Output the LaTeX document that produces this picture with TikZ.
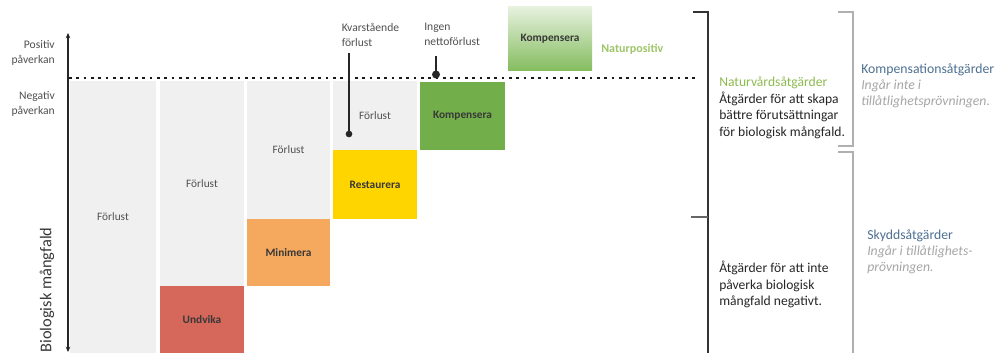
\documentclass[tikz,border=0pt]{standalone}
\usepackage{fontspec}
\setmainfont{Carlito}
\usetikzlibrary{arrows.meta}
\definecolor{boxgray}{HTML}{F0F0F0}
\definecolor{redbox}{HTML}{D5685A}
\definecolor{orangebox}{HTML}{F5A95E}
\definecolor{yellowbox}{HTML}{FFD500}
\definecolor{greenbox}{HTML}{72AE4A}
\definecolor{greentop}{HTML}{E6F1DE}
\definecolor{greenbot}{HTML}{84BC5E}
\definecolor{txtgray}{HTML}{505050}
\definecolor{dark}{HTML}{383838}
\definecolor{natgreen}{HTML}{8DBA4F}
\definecolor{bluegray}{HTML}{4D6F91}
\definecolor{itgray}{HTML}{A6A6A6}
\definecolor{brgray}{HTML}{B0B0B0}
\begin{document}
\begin{tikzpicture}[x=0.75pt,y=-0.75pt,
  gbox/.style={inner sep=0pt, draw=none, fill=boxgray, text=txtgray, font=\fontsize{8.5}{10}\selectfont},
  cbox/.style={inner sep=0pt, draw=none, text=dark, font=\fontsize{8.5}{10}\selectfont\bfseries},
  small/.style={inner sep=0pt, text=txtgray, font=\fontsize{8.7}{11.2}\selectfont},
  rtext/.style={inner sep=0pt, anchor=west, align=left, text=black!85, font=\fontsize{10.2}{12.5}\selectfont},
  ktext/.style={inner sep=0pt, anchor=west, align=left, font=\fontsize{10.3}{12}\selectfont},
  axisline/.style={line width=1.5pt, draw=black!85},
  marker/.style={line width=0.9pt, draw=black!85},
  mdot/.style={circle, fill=black!85, inner sep=0pt, minimum size=5pt},
  blackbr/.style={line width=1.2pt, draw=black!80},
  graybr/.style={line width=0.9pt, draw=brgray}
]
\useasboundingbox (0,0) rectangle (1000,353);

% columns
\node[gbox, minimum width=64.5pt, minimum height=204pt] (c1) at (113,217) {Förlust};
\node[gbox, minimum width=63pt, minimum height=153.75pt] (c2) at (202,183.5) {Förlust};
\node[cbox, fill=redbox, minimum width=63pt, minimum height=50.25pt] (undv) at (202,319.5) {Undvika};
\node[gbox, minimum width=62.25pt, minimum height=103.5pt] (c3) at (288.5,150) {Förlust};
\node[cbox, fill=orangebox, minimum width=62.25pt, minimum height=50.25pt] (mini) at (288.5,252.5) {Minimera};
\node[gbox, minimum width=63pt, minimum height=51.75pt] (c4) at (375,115.5) {Förlust};
\node[cbox, fill=yellowbox, minimum width=63pt, minimum height=51.75pt] (rest) at (375,184.5) {Restaurera};
\node[cbox, fill=greenbox, minimum width=63.75pt, minimum height=51pt] (komp1) at (462.5,116) {Kompensera};
\node[cbox, top color=greentop, bottom color=greenbot, minimum width=63pt, minimum height=48pt] (komp2) at (550,39) {Kompensera};
\node[inner sep=0pt, anchor=west, text=natgreen!85, font=\fontsize{9}{11}\selectfont\bfseries] (natpos) at (601,49) {Naturpositiv};

% axis
\coordinate (axtop) at (68,33);
\coordinate (axbot) at (68,352);
\draw[axisline, {Stealth[length=4pt,width=3.5pt]}-{Stealth[length=4pt,width=3.5pt]}] (axbot) -- (axtop);

% dotted line
\coordinate (dl) at (69,78);
\coordinate (dr) at (698,78);
\draw[line width=2.1pt, draw=black!90, dash pattern=on 2.1pt off 3.4pt] (dl) -- (dr);

% left labels
\node[small, anchor=east, align=right] (pos) at (55,52.5) {Positiv\\påverkan};
\node[small, anchor=east, align=right] (neg) at (55,104) {Negativ\\påverkan};
\node[inner sep=0pt, rotate=90, text=dark, font=\fontsize{12.3}{14}\selectfont] (bio) at (47,290) {Biologisk mångfald};

% markers
\node[small, anchor=west, align=left] (kvar) at (341.5,34.5) {Kvarstående\\förlust};
\coordinate (kvtop) at (349,53);
\node[mdot] (kvdot) at (349,134) {};
\draw[marker] (kvtop) -- (kvdot.center);
\node[small, anchor=west, align=left] (ingen) at (424,34.5) {Ingen\\nettoförlust};
\coordinate (ingtop) at (436,56);
\node[mdot, minimum size=6pt] (ingdot) at (436,74.5) {};
\draw[marker, line width=1.3pt] (ingtop) -- (ingdot.center);

% black bracket
\coordinate (b1a) at (693,12);
\coordinate (b1b) at (708,12);
\coordinate (b1c) at (708,353);
\coordinate (b1m) at (708,217);
\coordinate (b1n) at (691,217);
\draw[blackbr] (b1a) -- (b1b) -- (b1c);
\draw[line width=1.8pt, draw=black!60] (b1n) -- (b1m);

% gray brackets
\coordinate (g1a) at (838,12);
\coordinate (g1b) at (853,12);
\coordinate (g1c) at (853,146);
\coordinate (g1d) at (838,146);
\draw[graybr] (g1a) -- (g1b) -- (g1c) -- (g1d);
\coordinate (g2a) at (838,152);
\coordinate (g2b) at (853,152);
\coordinate (g2c) at (853,353);
\draw[graybr] (g2a) -- (g2b) -- (g2c);

% right texts
\node[rtext] (natv) at (719,108) {\textcolor{natgreen}{Naturvårdsåtgärder}\\Åtgärder för att skapa\\bättre förutsättningar\\för biologisk mångfald.};
\node[rtext] (skyddtxt) at (719,284.5) {Åtgärder för att inte\\påverka biologisk\\mångfald negativt.};
\node[ktext] (kompt) at (861,86) {\textcolor{bluegray}{Kompensationsåtgärder}\\\textcolor{itgray}{\itshape Ingår inte i}\\\textcolor{itgray}{\itshape tillåtlighetsprövningen.}};
\node[ktext] (skyddt) at (867,252) {\textcolor{bluegray}{Skyddsåtgärder}\\\textcolor{itgray}{\itshape Ingår i tillåtlighets-}\\\textcolor{itgray}{\itshape prövningen.}};
\end{tikzpicture}
\end{document}
